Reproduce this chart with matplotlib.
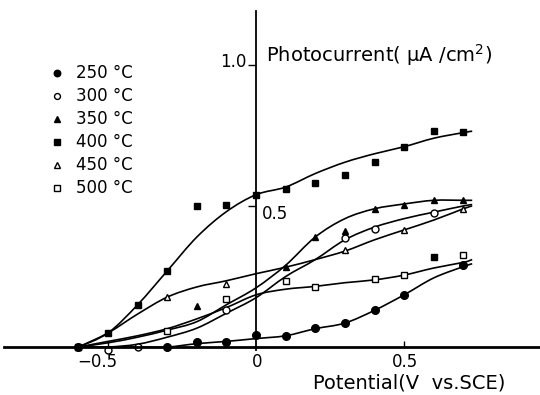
import matplotlib
matplotlib.use('Agg')
import matplotlib.pyplot as plt
import numpy as np
from matplotlib.path import Path
from matplotlib.patches import PathPatch

plt.rcParams['font.family'] = ['DejaVu Sans']

# potential grid of the hand-drawn curves (V vs. SCE), last knot = curve end
curve_v = [-0.6, -0.5, -0.4, -0.3, -0.2, -0.1, 0.0, 0.1, 0.2, 0.3, 0.4, 0.5, 0.6, 0.7, 0.73]

# fitted curves (uA/cm2)
curve_250 = [0, 0, 0, 0, 0.012, 0.02, 0.03, 0.04, 0.065, 0.085, 0.13, 0.185, 0.245, 0.285, 0.295]
curve_300 = [0, 0, 0.01, 0.035, 0.067, 0.12, 0.175, 0.25, 0.31, 0.38, 0.425, 0.455, 0.478, 0.5, 0.505]
curve_350 = [0, 0.015, 0.035, 0.06, 0.09, 0.15, 0.21, 0.29, 0.39, 0.455, 0.49, 0.507, 0.52, 0.52, 0.52]
curve_400 = [0, 0.05, 0.15, 0.27, 0.39, 0.48, 0.54, 0.567, 0.615, 0.655, 0.685, 0.71, 0.74, 0.76, 0.765]
curve_450 = [0, 0.05, 0.117, 0.177, 0.213, 0.235, 0.26, 0.283, 0.31, 0.34, 0.38, 0.415, 0.45, 0.49, 0.50]
curve_500 = [0, 0.02, 0.04, 0.065, 0.1, 0.14, 0.185, 0.205, 0.215, 0.228, 0.238, 0.255, 0.28, 0.3, 0.31]

# measured points
v_250 = [-0.6, -0.3, -0.2, -0.1, 0.0, 0.1, 0.2, 0.3, 0.4, 0.5, 0.7]
i_250 = [0, 0.0, 0.018, 0.018, 0.043, 0.04, 0.067, 0.085, 0.13, 0.185, 0.29]
v_300 = [-0.5, -0.4, -0.1, 0.3, 0.4, 0.6]
i_300 = [-0.01, 0.0, 0.13, 0.385, 0.42, 0.475]
v_350 = [-0.6, -0.2, 0.1, 0.2, 0.3, 0.4, 0.5, 0.6, 0.7]
i_350 = [0, 0.145, 0.285, 0.39, 0.41, 0.49, 0.505, 0.52, 0.52]
v_400 = [-0.6, -0.5, -0.4, -0.3, -0.2, -0.1, 0.0, 0.1, 0.2, 0.3, 0.4, 0.5, 0.6, 0.7, 0.6]
i_400 = [0, 0.05, 0.15, 0.27, 0.50, 0.505, 0.54, 0.56, 0.58, 0.61, 0.655, 0.71, 0.765, 0.762, 0.318]
v_450 = [-0.3, -0.1, 0.3, 0.5, 0.7]
i_450 = [0.177, 0.225, 0.345, 0.415, 0.49]
v_500 = [-0.3, -0.1, 0.1, 0.2, 0.4, 0.5, 0.7]
i_500 = [0.058, 0.172, 0.235, 0.212, 0.24, 0.255, 0.325]

labels = ['250 \u00b0C', '300 \u00b0C', '350 \u00b0C', '400 \u00b0C', '450 \u00b0C', '500 \u00b0C']

xtick_vals = [-0.5, 0.0, 0.5]
xtick_labels = ['\u22120.5', '0', '0.5']


def smooth_path(xs, ys):
    # catmull-rom through the read knots, drawn as cubic bezier
    pts = np.column_stack([xs, ys]).astype(float)
    verts = [pts[0]]
    codes = [Path.MOVETO]
    for k in range(len(pts) - 1):
        p0 = pts[k - 1] if k > 0 else pts[k]
        p1 = pts[k]
        p2 = pts[k + 1]
        p3 = pts[k + 2] if k + 2 < len(pts) else pts[k + 1]
        verts += [p1 + (p2 - p0) / 6, p2 - (p3 - p1) / 6, p2]
        codes += [Path.CURVE4] * 3
    return Path(verts, codes)


fig = plt.figure(figsize=(5.4, 3.95), dpi=100)
ax = fig.add_axes([0, 0, 1, 1])
ax.set_xlim(-0.865, 0.959)
ax.set_ylim(-0.170, 1.230)

for cur in [curve_250, curve_300, curve_350, curve_400, curve_450, curve_500]:
    ax.add_patch(PathPatch(smooth_path(curve_v, cur), fill=False, lw=1.2, color='black'))

ms = 5
h1, = ax.plot(v_250, i_250, 'o', color='black', ms=ms + 0.5, ls='none')
h2, = ax.plot(v_300, i_300, 'o', mfc='white', mec='black', mew=1, ms=ms, ls='none')
h3, = ax.plot(v_350, i_350, '^', color='black', ms=ms, ls='none')
h4, = ax.plot(v_400, i_400, 's', color='black', ms=ms, ls='none')
h5, = ax.plot(v_450, i_450, '^', mfc='white', mec='black', mew=1, ms=ms, ls='none')
h6, = ax.plot(v_500, i_500, 's', mfc='white', mec='black', mew=1, ms=ms, ls='none')

leg = ax.legend([h1, h2, h3, h4, h5, h6], labels, loc='upper left',
                bbox_to_anchor=(0.078, 0.858), frameon=False, fontsize=12,
                handlelength=0.8, handletextpad=0.74, labelspacing=0.3,
                markerscale=0.85, borderpad=0)

# axes through the origin
for s in ['top', 'right']:
    ax.spines[s].set_visible(False)
ax.spines['left'].set_position(('data', 0))
ax.spines['bottom'].set_position(('data', 0))
ax.spines['left'].set_bounds(-0.01, 1.19)
ax.spines['bottom'].set_bounds(-0.85, 0.96)
ax.spines['bottom'].set_linewidth(2)
ax.spines['left'].set_linewidth(1.3)

ax.set_xticks([-0.5, 0.5])
ax.set_xticklabels([])
ax.tick_params(axis='x', direction='in', length=4, width=1)
ax.set_yticks([0.5, 1.0])
ax.set_yticklabels([])
ax.tick_params(axis='y', direction='out', length=6, width=1)

dx = {'\u22120.5': -0.037, '0': 0.003, '0.5': 0.003}
for v, lab in zip(xtick_vals, xtick_labels):
    ax.text(v + dx[lab], -0.053, lab, ha='center', va='center', fontsize=12)

ax.text(-0.034, 1.01, '1.0', ha='right', va='center', fontsize=12)
ax.text(0.02, 0.47, '0.5', ha='left', va='center', fontsize=12)
ax.text(0.035, 1.035, 'Photocurrent( \u03bcA /cm$^2$)', ha='left', va='center', fontsize=14)
ax.text(0.193, -0.128, 'Potential(V  vs.SCE)', ha='left', va='center', fontsize=14)

fig.savefig('out.png', dpi=100)
